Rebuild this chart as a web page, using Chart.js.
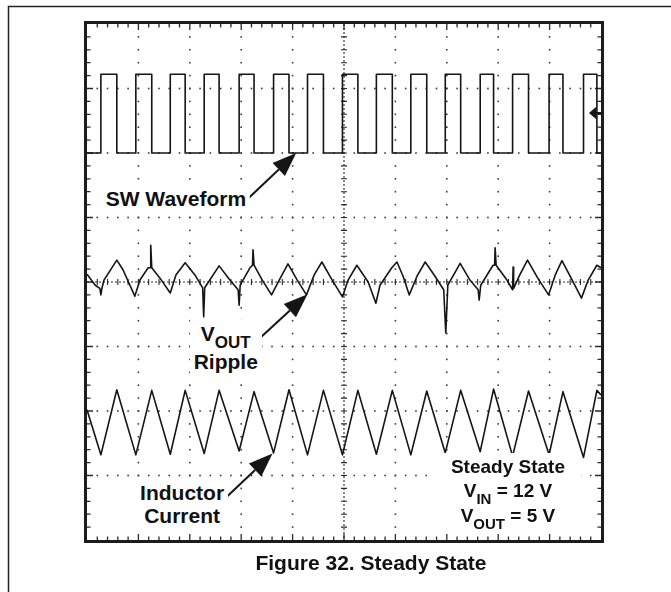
<!DOCTYPE html>
<html>
<head>
<meta charset="utf-8">
<title>Figure 32. Steady State</title>
<script src="https://cdn.jsdelivr.net/npm/chart.js@4.4.1/dist/chart.umd.min.js"></script>
<style>
  html, body { margin: 0; padding: 0; background: #fff; }
  #wrap { position: relative; width: 671px; height: 592px; overflow: hidden; }
  #scope { position: absolute; left: 0; top: 0; }
  .note {
    position: absolute;
    font-family: "Liberation Sans", Arial, Helvetica, sans-serif;
    font-weight: bold;
    font-size: 21px;
    line-height: 23px;
    color: #111;
    background: #fff;
    white-space: nowrap;
    text-align: center;
    padding: 1px 4px;
    transform: translate(-50%, -50%);
  }
  .note .sub { position: relative; top: 7px; font-size: 17px; }
  #lblRipple { line-height: 26px; }
  #lblState { font-size: 19px; line-height: 24px; padding: 2px 16px; }
  #lblState .sub { font-size: 15px; top: 7px; }
  #caption {
    position: absolute;
    left: 371px;
    top: 551px;
    transform: translateX(-50%);
    font-family: "Liberation Sans", Arial, Helvetica, sans-serif;
    font-weight: bold;
    font-size: 21px;
    line-height: 23px;
    color: #111;
    white-space: nowrap;
  }
</style>
</head>
<body>
<div id="wrap">
  <canvas id="scope" width="671" height="592"></canvas>
  <div class="note" id="lblSw">SW Waveform</div>
  <div class="note" id="lblRipple">V<span class="sub">OUT</span><br>Ripple</div>
  <div class="note" id="lblInd">Inductor<br>Current</div>
  <div class="note" id="lblState">Steady State<br>V<span class="sub">IN</span> = 12 V<br>V<span class="sub">OUT</span> = 5 V</div>
  <div id="caption">Figure 32. Steady State</div>
</div>
<script>
// screen is 10 x 8 divisions, 5 minor steps per division
const divX = 10;
const divY = 8;

// switch node: edge times (divisions) and levels
const swRise = [0.27, 0.95, 1.62, 2.28, 2.96, 3.63, 4.29, 4.97, 5.63, 6.30, 6.97, 7.65, 8.28, 8.99, 9.66];
const swFall = [0.58, 1.26, 1.91, 2.57, 3.25, 3.93, 4.60, 5.27, 5.94, 6.61, 7.27, 7.91, 8.59, 9.26, 9.92];
const swLow = 2.0;
const swHigh = 3.22;

// inductor current: valley at each rising edge, peak at each falling edge
const indValley = [-2.68, -2.68, -2.67, -2.66, -2.62, -2.65, -2.68, -2.68, -2.67, -2.68, -2.65, -2.63, -2.70, -2.68, -2.72];
const indPeak = [-1.67, -1.68, -1.68, -1.68, -1.70, -1.67, -1.68, -1.68, -1.68, -1.69, -1.68, -1.66, -1.69, -1.70, -1.68];
const indStart = -1.98;
const indEnd = -1.75;

// output ripple, around the centre line
const rippleT = [0.00, 0.16, 0.25, 0.27, 0.29, 0.33, 0.58, 0.70, 0.93, 1.03, 1.19, 1.23, 1.24, 1.26, 1.42, 1.62, 1.73, 1.91,
  2.10, 2.25, 2.27, 2.29, 2.57, 2.78, 2.94, 2.96, 2.98, 3.17, 3.22, 3.23, 3.25, 3.41, 3.59, 3.76, 3.91, 4.09, 4.27, 4.42,
  4.57, 4.77, 4.97, 5.08, 5.25, 5.47, 5.62, 5.70, 5.93, 6.03, 6.15, 6.27, 6.42, 6.58, 6.77, 6.94, 6.98, 7.02, 7.26, 7.45,
  7.61, 7.63, 7.66, 7.90, 7.93, 7.94, 7.96, 8.17, 8.28, 8.29, 8.30, 8.42, 8.57, 8.77, 8.98, 9.11, 9.24, 9.44, 9.62, 9.75,
  9.92, 10.00];
const rippleV = [0.12, -0.05, -0.10, -0.20, -0.10, 0.03, 0.34, 0.19, -0.22, 0.03, 0.22, 0.22, 0.57, 0.22, 0.06, -0.17, 0.11, 0.30,
  0.11, -0.09, -0.54, -0.09, 0.25, 0.03, -0.12, -0.36, -0.05, 0.22, 0.26, 0.50, 0.26, 0.03, -0.20, 0.06, 0.28, 0.03, -0.20, 0.11,
  0.31, 0.03, -0.23, 0.03, 0.26, 0.00, -0.33, -0.05, 0.22, 0.31, 0.09, -0.20, 0.09, 0.31, 0.09, -0.12, -0.79, -0.05, 0.29, 0.03,
  -0.12, -0.28, -0.05, 0.26, 0.26, 0.53, 0.26, 0.03, -0.12, 0.23, -0.10, 0.11, 0.34, 0.06, -0.20, 0.11, 0.33, 0.03, -0.25, 0.03,
  0.26, 0.22];

// channel marker on the right edge
const trigLevel = 2.62;

// text boxes (centre, in divisions) and arrows pointing at the traces
const notes = [
  { id: 'lblSw', x: 1.73, y: 1.31 },
  { id: 'lblRipple', x: 2.70, y: -1.02 },
  { id: 'lblInd', x: 1.85, y: -3.44 },
  { id: 'lblState', x: 8.19, y: -3.25 }
];
const arrows = [
  { from: [3.13, 1.29], to: [4.07, 2.0] },
  { from: [3.35, -0.88], to: [4.29, -0.19] },
  { from: [2.72, -3.33], to: [3.61, -2.66] }
];

// build the traces
const swPoints = [{ x: 0, y: swLow }];
swRise.forEach((t, k) => {
  swPoints.push({ x: t, y: swLow }, { x: t, y: swHigh }, { x: swFall[k], y: swHigh }, { x: swFall[k], y: swLow });
});
swPoints.push({ x: divX, y: swLow });

const indPoints = [{ x: 0, y: indStart }];
swRise.forEach((t, k) => {
  indPoints.push({ x: t, y: indValley[k] }, { x: swFall[k], y: indPeak[k] });
});
indPoints.push({ x: divX, y: indEnd });

const ripplePoints = rippleT.map((t, k) => ({ x: t, y: rippleV[k] }));

const ink = '#151515';

const scopeGrid = {
  id: 'scopeGrid',
  beforeDraw(chart) {
    const ctx = chart.ctx;
    ctx.save();
    ctx.strokeStyle = '#222';
    ctx.lineWidth = 1.5;
    ctx.beginPath();
    ctx.moveTo(8.5, chart.height);
    ctx.lineTo(8.5, 6.5);
    ctx.lineTo(chart.width, 6.5);
    ctx.stroke();
    ctx.restore();
  },
  beforeDatasetsDraw(chart) {
    const { ctx, chartArea: a, scales: { x, y } } = chart;
    const yMin = -divY / 2;
    ctx.save();
    ctx.fillStyle = '#fff';
    ctx.fillRect(a.left, a.top, a.right - a.left, a.bottom - a.top);

    // dotted division lines
    ctx.fillStyle = '#3a3a3a';
    for (let i = 1; i < divX; i++) {
      if (i === divX / 2) continue;
      const px = x.getPixelForValue(i);
      for (let k = 1; k < divY * 5; k++) {
        const py = y.getPixelForValue(yMin + k / 5);
        ctx.fillRect(px - 0.8, py - 0.8, 1.6, 1.6);
      }
    }
    for (let j = 1; j < divY; j++) {
      if (j === divY / 2) continue;
      const py = y.getPixelForValue(yMin + j);
      for (let k = 1; k < divX * 5; k++) {
        const px = x.getPixelForValue(k / 5);
        ctx.fillRect(px - 0.8, py - 0.8, 1.6, 1.6);
      }
    }

    // centre axes with minor ticks
    const cx = x.getPixelForValue(divX / 2);
    const cy = y.getPixelForValue(0);
    ctx.strokeStyle = '#2a2a2a';
    ctx.lineWidth = 1.1;
    ctx.setLineDash([2, 2]);
    ctx.beginPath();
    ctx.moveTo(cx, a.top);
    ctx.lineTo(cx, a.bottom);
    ctx.moveTo(a.left, cy);
    ctx.lineTo(a.right, cy);
    ctx.stroke();
    ctx.setLineDash([]);
    ctx.beginPath();
    for (let k = 1; k < divY * 5; k++) {
      const py = y.getPixelForValue(yMin + k / 5);
      ctx.moveTo(cx - 3, py);
      ctx.lineTo(cx + 3, py);
    }
    for (let k = 1; k < divX * 5; k++) {
      const px = x.getPixelForValue(k / 5);
      ctx.moveTo(px, cy - 3);
      ctx.lineTo(px, cy + 3);
    }
    ctx.stroke();

    // ticks along the frame
    ctx.lineWidth = 1.3;
    ctx.beginPath();
    for (let k = 1; k < divX * 5; k++) {
      const px = x.getPixelForValue(k / 5);
      const len = k % 5 === 0 ? 6 : 3.5;
      ctx.moveTo(px, a.top);
      ctx.lineTo(px, a.top + len);
      ctx.moveTo(px, a.bottom);
      ctx.lineTo(px, a.bottom - len);
    }
    for (let k = 1; k < divY * 5; k++) {
      const py = y.getPixelForValue(yMin + k / 5);
      const len = k % 5 === 0 ? 6 : 3.5;
      ctx.moveTo(a.left, py);
      ctx.lineTo(a.left + len, py);
      ctx.moveTo(a.right, py);
      ctx.lineTo(a.right - len, py);
    }
    ctx.stroke();
    ctx.restore();
  },
  afterDatasetsDraw(chart) {
    const { ctx, chartArea: a, scales: { x, y } } = chart;
    ctx.save();

    // frame
    ctx.strokeStyle = '#1c1c1c';
    ctx.lineWidth = 3;
    ctx.strokeRect(a.left - 1.5, a.top - 1.5, a.right - a.left + 3, a.bottom - a.top + 3);

    // channel marker
    const my = y.getPixelForValue(trigLevel);
    ctx.fillStyle = ink;
    ctx.beginPath();
    ctx.moveTo(a.right - 12, my);
    ctx.lineTo(a.right - 5, my - 6);
    ctx.lineTo(a.right - 5, my + 6);
    ctx.closePath();
    ctx.fill();
    ctx.fillRect(a.right - 6, my - 1, 6, 2);

    // arrows
    ctx.strokeStyle = ink;
    ctx.lineWidth = 2;
    arrows.forEach(ar => {
      const x0 = x.getPixelForValue(ar.from[0]);
      const y0 = y.getPixelForValue(ar.from[1]);
      const x1 = x.getPixelForValue(ar.to[0]);
      const y1 = y.getPixelForValue(ar.to[1]);
      const ang = Math.atan2(y1 - y0, x1 - x0);
      const headLen = 24, headHalf = 9;
      const bx = x1 - headLen * Math.cos(ang);
      const by = y1 - headLen * Math.sin(ang);
      ctx.beginPath();
      ctx.moveTo(x0, y0);
      ctx.lineTo(bx, by);
      ctx.stroke();
      ctx.beginPath();
      ctx.moveTo(x1, y1);
      ctx.lineTo(bx + headHalf * Math.sin(ang), by - headHalf * Math.cos(ang));
      ctx.lineTo(bx - headHalf * Math.sin(ang), by + headHalf * Math.cos(ang));
      ctx.closePath();
      ctx.fill();
    });
    ctx.restore();
  },
  afterRender(chart) {
    const { x, y } = chart.scales;
    notes.forEach(n => {
      const el = document.getElementById(n.id);
      el.style.left = x.getPixelForValue(n.x) + 'px';
      el.style.top = y.getPixelForValue(n.y) + 'px';
    });
  }
};

const traceStyle = {
  borderColor: ink,
  borderWidth: 1.6,
  borderJoinStyle: 'round',
  pointRadius: 0,
  tension: 0,
  fill: false
};

new Chart(document.getElementById('scope'), {
  type: 'line',
  data: {
    datasets: [
      Object.assign({ label: 'SW', data: swPoints }, traceStyle),
      Object.assign({ label: 'VOUT ripple', data: ripplePoints }, traceStyle),
      Object.assign({ label: 'Inductor current', data: indPoints }, traceStyle)
    ]
  },
  options: {
    responsive: false,
    animation: false,
    layout: { padding: { left: 87, top: 24, right: 70, bottom: 52 } },
    scales: {
      x: { type: 'linear', min: 0, max: divX, display: false },
      y: { type: 'linear', min: -divY / 2, max: divY / 2, display: false }
    },
    plugins: {
      legend: { display: false },
      tooltip: { enabled: false }
    }
  },
  plugins: [scopeGrid]
});
</script>
</body>
</html>
